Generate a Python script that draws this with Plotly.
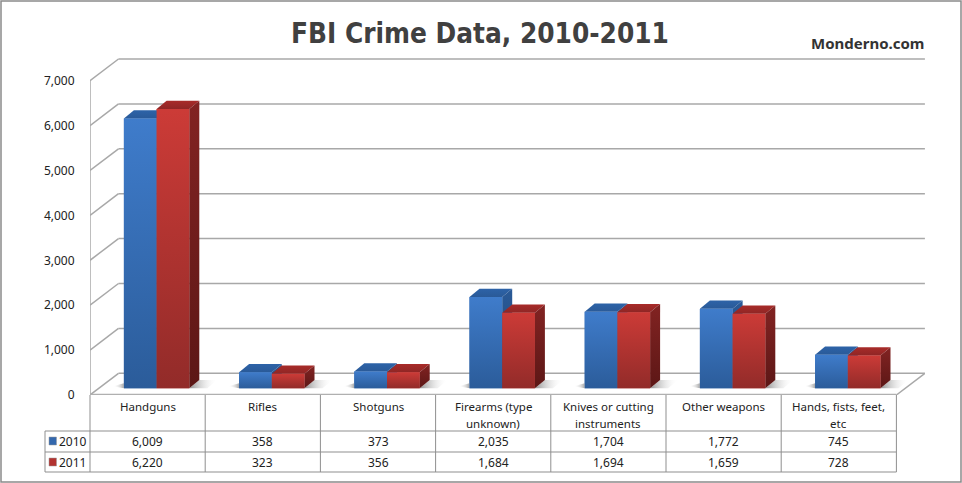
import plotly.graph_objects as go

categories=[["Handguns"],["Rifles"],["Shotguns"],["Firearms (type","unknown)"],["Knives or cutting","instruments"],["Other weapons"],["Hands, fists, feet,","etc"]]
values_2010=[6009,358,373,2035,1704,1772,745]
values_2011=[6220,323,356,1684,1694,1659,728]
tick_values=[0,1000,2000,3000,4000,5000,6000,7000]

#Pixel layout of the picture
W,H=962,483
LEFT,RIGHT,TOP,BOTTOM=90,925,58,395
PITCH=115.2
PX_PER_UNIT=0.0449
GRID="#a8a8a8"
TABLE="#8f8f8f"
TEXT="#222222"
FONT="Noto Sans"

x_range=[-0.5,-0.5+(RIGHT-LEFT)/PITCH]
y_range=[0,(BOTTOM-TOP)/PX_PER_UNIT]

#Converting picture pixels to axis units and paper units
def dx(px):
  return px/PITCH
def dy(px):
  return px/PX_PER_UNIT
def paper_x(px):
  return (px-LEFT)/(RIGHT-LEFT)
def paper_y(py):
  return (BOTTOM-py)/(BOTTOM-TOP)

wall_dx,wall_dy=dx(28.5),dy(21.7)
bar_dx,bar_dy=dx(10),dy(8.3)
bar_w=dx(32.7)
pair_shift=dx(9)
floor=dy(6.7)

styles=[
  {"name":"2010","values":values_2010,"mid":"#3468ad","front":["#3f7ccb","#2b5c9a"],"side":["#2a5a98","#1f4370"],"top":["#2d63a8","#2a5a98"]},
  {"name":"2011","values":values_2011,"mid":"#b23330","front":["#cc3b37","#922b29"],"side":["#822322","#5c1716"],"top":["#a82b29","#8f2625"]},
]

fig=go.Figure()

#Real bars for the front faces
for s_index,style in enumerate(styles):
  x_pos=[i+pair_shift+(s_index-0.5)*bar_w for i in range(len(categories))]
  fig.add_trace(go.Bar(x=x_pos,y=style["values"],base=floor,width=bar_w,name=style["name"],marker_color=style["mid"],marker_line_width=0))

#Vertical colours are given top first, plotly's scale runs bottom first
def poly(xs,ys,colors,gradient="vertical"):
  if(gradient=="vertical"):
    scale=[[0,colors[1]],[1,colors[0]]]
  else:
    scale=[[0,colors[0]],[1,colors[1]]]
  fig.add_trace(go.Scatter(x=xs+[xs[0]],y=ys+[ys[0]],mode="lines",line_width=0,fill="toself",
    fillgradient=dict(type=gradient,colorscale=scale),hoverinfo="skip",showlegend=False))

#Floor shadows and the 3D faces of each bar
for i in range(len(categories)):
  left=i+pair_shift-bar_w
  right=i+pair_shift+bar_w
  poly([right,right+bar_dx,right+bar_dx+dx(18),right+dx(18)],[floor,floor+bar_dy,floor+bar_dy,floor],["#8f8f8f","rgba(255,255,255,0)"],"horizontal")
  poly([left-dx(11),left,left],[floor+dy(2),floor+dy(5),floor],["rgba(255,255,255,0)","#a8a8a8"],"horizontal")
  for s_index,style in enumerate(styles):
    x0=i+pair_shift+(s_index-1)*bar_w
    x1=x0+bar_w
    top=floor+style["values"][i]
    poly([x0,x0+bar_dx,x1+bar_dx,x1],[top,top+bar_dy,top+bar_dy,top],style["top"])
    poly([x1,x1+bar_dx,x1+bar_dx,x1],[floor,floor+bar_dy,top+bar_dy,top],style["side"])
    poly([x0,x1,x1,x0],[floor,floor,top,top],style["front"])

shapes=[]

def wall_line(x0,y0,x1,y1,color=GRID,width=1.5):
  shapes.append(dict(type="line",xref="x",yref="y",x0=x0,y0=y0,x1=x1,y1=y1,layer="below",line=dict(color=color,width=width)))

#Back wall, left wall and floor
x_start=x_range[0]
x_end=x_start+len(categories)
for tick in tick_values:
  wall_line(x_start,tick,x_start+wall_dx,tick+wall_dy)
  wall_line(x_start+wall_dx,tick+wall_dy,x_end+wall_dx,tick+wall_dy)
wall_line(x_start,0,x_start,tick_values[-1])
wall_line(x_end,0,x_end+wall_dx,wall_dy)
wall_line(x_start,0,x_end,0,"#b0b0b0",2.5)

def table_line(x0,y0,x1,y1):
  shapes.append(dict(type="line",xref="paper",yref="paper",x0=paper_x(x0),y0=paper_y(y0),x1=paper_x(x1),y1=paper_y(y1),line=dict(color=TABLE,width=1)))

#Data table under the chart
column_edges=[LEFT+PITCH*i for i in range(len(categories)+1)]
table_line(45,431,column_edges[-1],431)
table_line(45,452,column_edges[-1],452)
table_line(45,472,column_edges[-1],472)
table_line(45,431,45,472)
for edge in column_edges:
  table_line(edge,395,edge,472)

#Outer frame
shapes.append(dict(type="rect",xref="paper",yref="paper",x0=paper_x(1),y0=paper_y(1),x1=paper_x(961),y1=paper_y(482),line=dict(color="#8a8a8a",width=1.5)))

annotations=[]

def label(text,px,py,size=12,weight="normal",color=TEXT,xanchor="center",family=FONT):
  annotations.append(dict(text=text,xref="paper",yref="paper",x=paper_x(px),y=paper_y(py),showarrow=False,xanchor=xanchor,yanchor="middle",
    font=dict(family=family,size=size,color=color,weight=weight)))

for i,lines in enumerate(categories):
  center=LEFT+PITCH*(i+0.5)
  for j,line in enumerate(lines):
    label(line,center,407+16*j,11.5)
  label(f"{values_2010[i]:,}",center,441)
  label(f"{values_2011[i]:,}",center,462)

#Legend keys inside the table
for style,py in zip(styles,[441,462]):
  shapes.append(dict(type="rect",xref="paper",yref="paper",x0=paper_x(49),y0=paper_y(py-4),x1=paper_x(56.5),y1=paper_y(py+4),fillcolor=style["mid"],line=dict(color="#9a9a9a",width=0.5)))
  label(style["name"],57,py,xanchor="left")

label("FBI Crime Data, 2010-2011",480,33,27.7,"bold","#404040",family="DejaVu Sans Condensed")
label("Monderno.com",927,43,15,"bold","#333333",xanchor="right")

fig.update_layout(
  width=W,height=H,margin=dict(l=LEFT,r=W-RIGHT,t=TOP,b=H-BOTTOM,pad=0),
  plot_bgcolor="white",paper_bgcolor="white",barmode="overlay",showlegend=False,
  shapes=shapes,annotations=annotations,
  xaxis=dict(range=x_range,visible=False,fixedrange=True),
  yaxis=dict(range=y_range,tickvals=tick_values,tickformat=",d",showgrid=False,zeroline=False,showline=False,
    ticks="outside",ticklen=12,tickcolor="rgba(0,0,0,0)",tickfont=dict(family=FONT,size=12,color=TEXT),fixedrange=True),
)

fig.write_html("out.html",config={"displayModeBar":False},post_script="document.body.style.margin='0';")
